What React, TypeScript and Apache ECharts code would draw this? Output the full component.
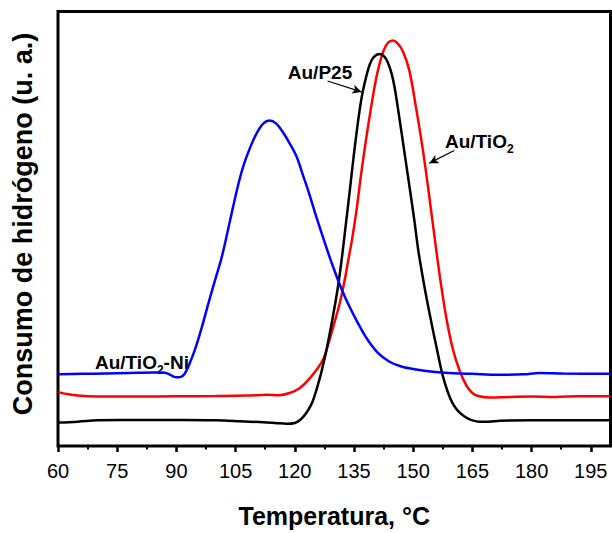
import React, { useEffect, useRef } from "react";
import * as echarts from "echarts";

const FONT = "Arial, 'Liberation Sans', Helvetica, sans-serif";

// Tick positions (°C)
const xTicks = [60, 75, 90, 105, 120, 135, 150, 165, 180, 195];
const xMinorTicks = [67.5, 82.5, 97.5, 112.5, 127.5, 142.5, 157.5, 172.5, 187.5];

// Au/P25 (black)
const auP25 = [
  [60, 5.4], [65, 5.6], [70, 5.9], [76, 6.0], [84, 6.0], [92, 6.0], [100, 5.9], [106, 5.7],
  [111, 5.5], [115, 5.3], [118, 5.1], [120, 5.3], [121.5, 6.1], [123, 7.7], [124.5, 10.2],
  [126.3, 15.5], [128, 22.0], [129.6, 29.5], [131, 37.0], [132.1, 44.5], [133, 51.5],
  [133.9, 58.5], [134.9, 66.5], [136, 74.5], [137, 80.5], [138.1, 85.0], [139, 87.8],
  [140, 89.5], [141.5, 90.2], [142.7, 89.6], [143.6, 88.2], [144.5, 85.8], [145.3, 82.5],
  [146.5, 75.5], [147.8, 67.5], [149.1, 59.5], [150.3, 51.9], [151.3, 45.0], [152.4, 39.0],
  [153.4, 34.0], [154.7, 28.0], [155.9, 22.8], [157.4, 16.5], [158.7, 12.6], [159.9, 10.0],
  [161.5, 7.9], [163.5, 6.5], [165, 5.9], [166.8, 5.6], [169, 5.6], [172, 5.8], [180, 5.9],
  [190, 5.9], [200, 5.9],
];

// Au/TiO2 (red)
const auTiO2 = [
  [60, 12.4], [62, 12.0], [65, 11.6], [70, 11.4], [80, 11.4], [90, 11.45], [100, 11.5],
  [108, 11.6], [113, 11.8], [116, 11.7], [118.7, 12.2], [121.2, 13.3], [124, 15.8],
  [127, 19.6], [128.5, 23.5], [130, 28.3], [131.3, 32.5], [132.5, 37.5], [133.5, 42.5],
  [134.5, 47.5], [135.6, 54.0], [136.8, 62.5], [138.1, 70.8], [139.4, 78.3], [140.6, 84.5],
  [141.5, 88.0], [142.5, 91.0], [143.6, 92.8], [144.8, 93.3], [146, 92.7], [147.4, 90.8],
  [149, 86.5], [150.7, 78.0], [152.4, 68.5], [154, 58.0], [155.5, 47.5], [157, 37.5],
  [158.5, 29.0], [160, 22.5], [161.7, 17.5], [163.5, 13.9], [165, 12.2], [166.5, 11.5],
  [169.3, 11.15], [171.8, 11.2], [180, 11.4], [186, 11.3], [192, 11.45], [200, 11.45],
];

// Au/TiO2-Ni (blue)
const auTiO2Ni = [
  [60, 16.5], [66, 16.6], [72, 16.7], [78, 16.8], [84, 16.9], [86.5, 16.9], [88, 16.6],
  [89, 16.1], [90, 15.8], [91, 15.85], [92, 16.5], [93.4, 19.1], [95, 23.0], [96.5, 27.5],
  [98, 32.5], [100, 38.8], [101.5, 43.5], [103.5, 51.5], [105.5, 59.5], [107, 64.5],
  [108.6, 68.5], [110.3, 71.9], [112, 74.2], [113.6, 74.9], [115.3, 74.2], [117, 72.2],
  [118.8, 69.5], [120.5, 66.5], [122, 62.5], [123.5, 58.5], [125.5, 52.6], [128, 45.7],
  [130, 40.5], [132, 35.8], [134, 31.8], [136, 28.3], [138.2, 24.8], [141, 21.5], [144, 19.4],
  [147, 18.3], [150.8, 17.6], [155, 17.1], [159.2, 16.8], [165, 16.6], [171.8, 16.4],
  [178, 16.5], [182, 16.8], [188, 16.7], [200, 16.6],
];

// Annotation arrows [from, to] in data coordinates
const arrowP25 = [[128.3, 84.0], [136.9, 81.5]];
const arrowTiO2 = [[160.4, 68.0], [154.1, 65.1]];

function arrowMark(a: number[][]) {
  return {
    silent: true,
    symbol: ["none", "arrow"],
    symbolSize: [7, 9],
    lineStyle: { color: "#000", width: 1.2, type: "solid" },
    label: { show: false },
    data: [[{ coord: a[0] }, { coord: a[1] }]],
  };
}

function lineSeries(name: string, data: number[][], color: string, extra: any = {}) {
  return {
    type: "line",
    name,
    data,
    showSymbol: false,
    smooth: 0.35,
    lineStyle: { color, width: 2.5 },
    itemStyle: { color },
    ...extra,
  };
}

export default function App() {
  const ref = useRef<HTMLDivElement>(null);
  useEffect(() => {
    if (!ref.current) return;
    const chart = echarts.init(ref.current, undefined, { renderer: "svg" });
    const boldRich = {
      a: { fontSize: 19, fontWeight: "bold", fontFamily: FONT, fill: "#000", verticalAlign: "bottom", padding: [0, 0, 4, 0] },
      s: { fontSize: 12, fontWeight: "bold", fontFamily: FONT, fill: "#000", verticalAlign: "bottom" },
    };
    chart.setOption({
      animation: false,
      backgroundColor: "#fff",
      grid: {
        left: 58,
        right: 1.5,
        top: 11.5,
        bottom: 82,
        show: true,
        borderColor: "#000",
        borderWidth: 3,
        backgroundColor: "transparent",
      },
      xAxis: [
        {
          type: "value",
          min: 60,
          max: 200,
          interval: 15,
          position: "bottom",
          name: "Temperatura, °C",
          nameLocation: "middle",
          nameGap: 57,
          nameTextStyle: { fontSize: 25, fontWeight: "bold", color: "#000", fontFamily: FONT },
          axisLine: { show: false },
          axisTick: { show: true, inside: false, length: 6, lineStyle: { color: "#000", width: 2.5 }, customValues: xTicks },
          axisLabel: { customValues: xTicks, fontSize: 20, color: "#000", margin: 15, fontFamily: FONT },
          splitLine: { show: false },
        },
        {
          type: "value",
          min: 60,
          max: 200,
          position: "bottom",
          axisLine: { show: false },
          axisTick: { show: true, inside: false, length: 3.5, lineStyle: { color: "#000", width: 2 }, customValues: xMinorTicks },
          axisLabel: { show: false },
          splitLine: { show: false },
        },
      ],
      yAxis: {
        type: "value",
        min: 0,
        max: 100,
        axisLine: { show: false },
        axisTick: { show: false },
        axisLabel: { show: false },
        splitLine: { show: false },
      },
      series: [
        lineSeries("Au/TiO2", auTiO2, "#ff0000", { markLine: arrowMark(arrowTiO2) }),
        lineSeries("Au/P25", auP25, "#000000", { markLine: arrowMark(arrowP25) }),
        lineSeries("Au/TiO2-Ni", auTiO2Ni, "#0000ff"),
      ],
      graphic: [
        {
          type: "text",
          x: 23,
          y: 224,
          rotation: Math.PI / 2,
          style: {
            text: "Consumo de hidrógeno (u. a.)",
            fontSize: 27,
            fontWeight: "bold",
            fontFamily: FONT,
            fill: "#000",
            textAlign: "center",
            textVerticalAlign: "middle",
          },
        },
        {
          type: "text",
          x: 320,
          y: 72,
          style: {
            text: "Au/P25",
            fontSize: 19,
            fontWeight: "bold",
            fontFamily: FONT,
            fill: "#000",
            textAlign: "center",
            textVerticalAlign: "middle",
          },
        },
        {
          type: "text",
          x: 445,
          y: 143,
          style: {
            text: "{a|Au/TiO}{s|2}",
            rich: boldRich,
            textAlign: "left",
            textVerticalAlign: "middle",
          },
        },
        {
          type: "text",
          x: 95,
          y: 364,
          style: {
            text: "{a|Au/TiO}{s|2}{a|-Ni}",
            rich: boldRich,
            textAlign: "left",
            textVerticalAlign: "middle",
          },
        },
      ],
    });
    return () => chart.dispose();
  }, []);
  return (
    <div
      ref={ref}
      style={{ position: "fixed", left: 0, top: 0, width: 612, height: 533, background: "#fff" }}
    />
  );
}
